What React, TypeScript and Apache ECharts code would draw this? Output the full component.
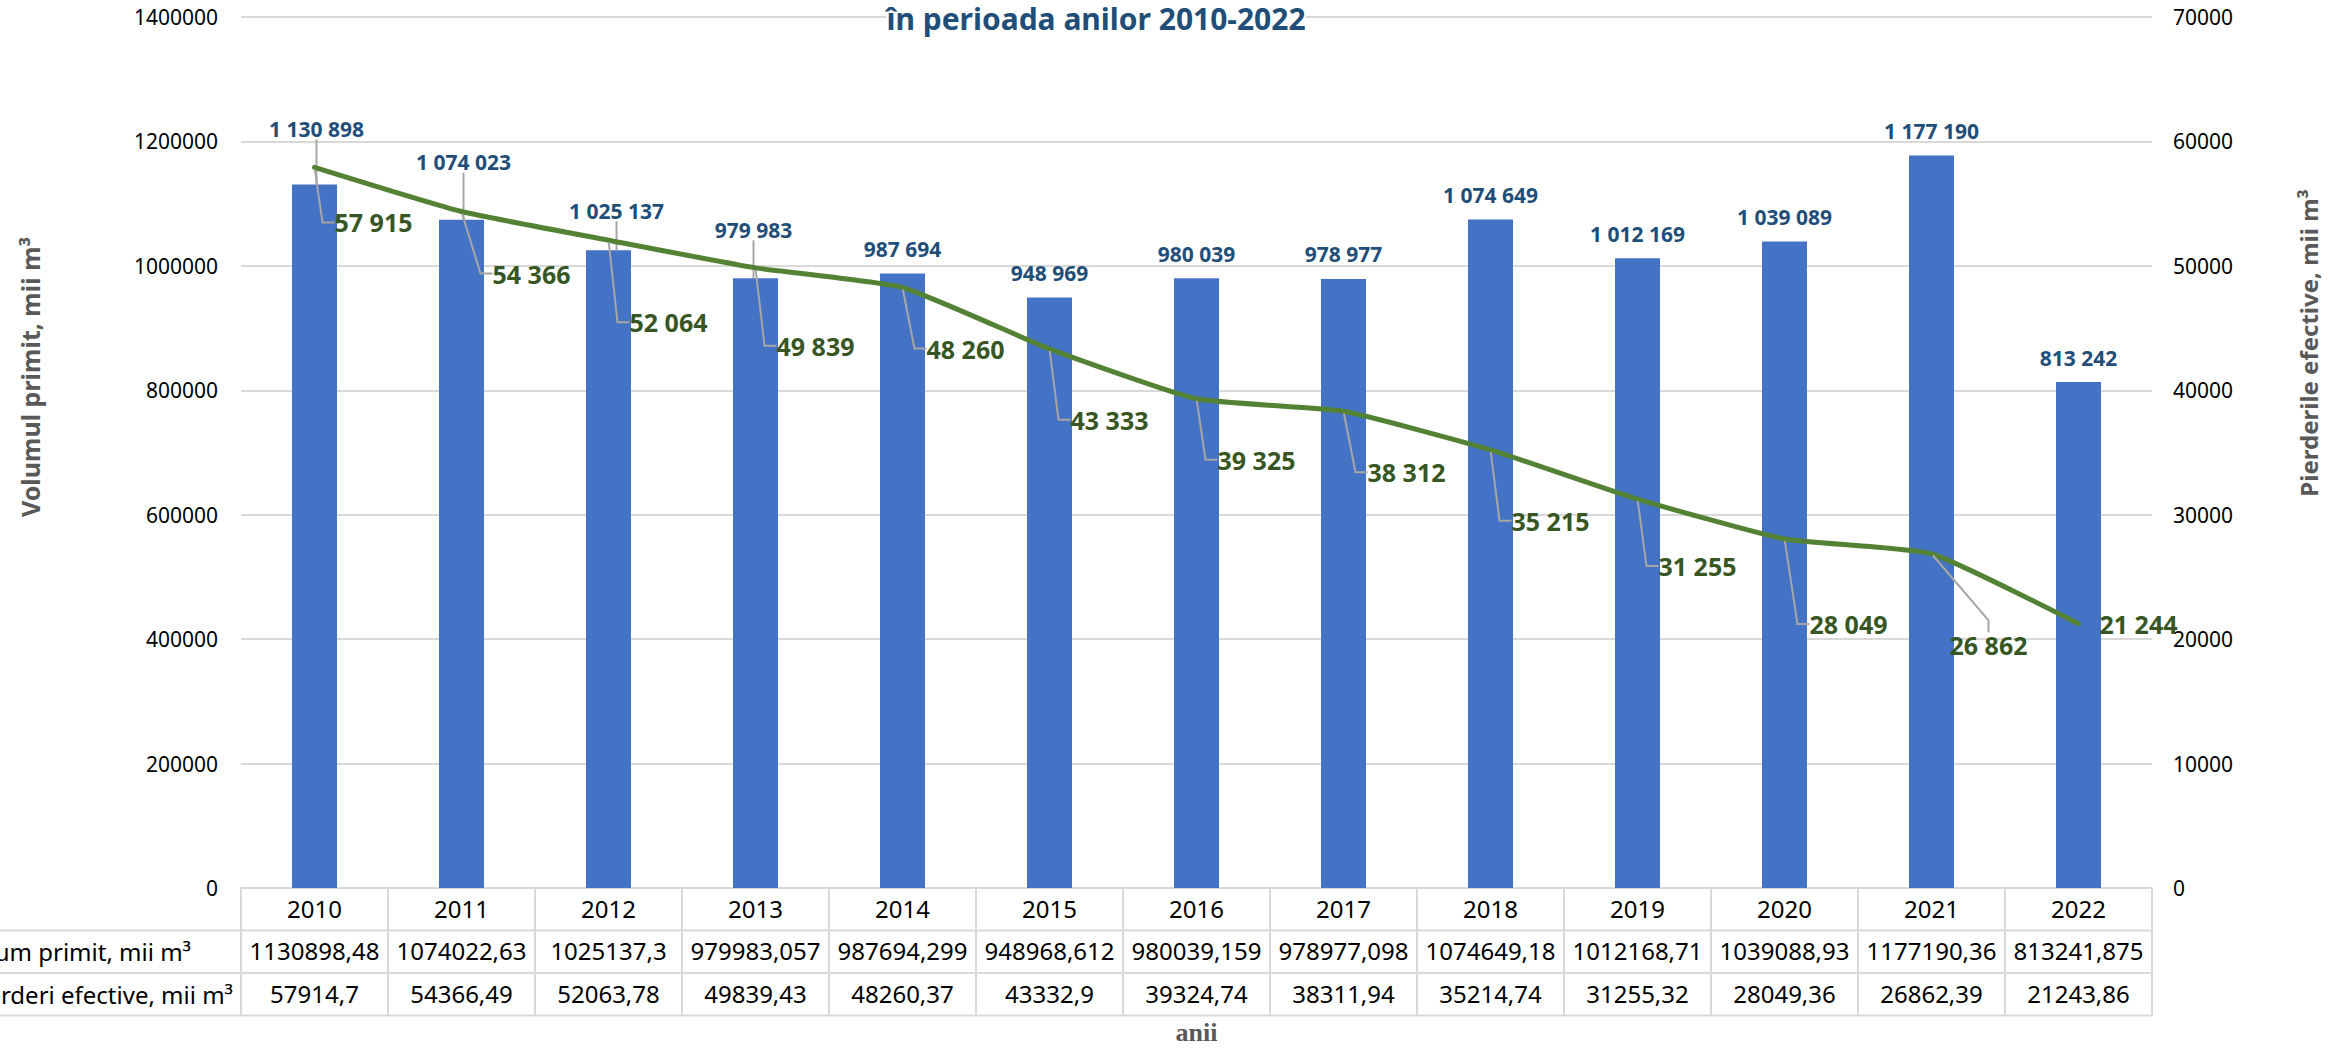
import React, { useEffect, useRef } from "react";
import * as echarts from "echarts";

// ---------- data ----------
const years = ["2010", "2011", "2012", "2013", "2014", "2015", "2016", "2017", "2018", "2019", "2020", "2021", "2022"];
const volumPrimit = [1130898.48, 1074022.63, 1025137.3, 979983.057, 987694.299, 948968.612, 980039.159, 978977.098, 1074649.18, 1012168.71, 1039088.93, 1177190.36, 813241.875];
const pierderiEfective = [57914.7, 54366.49, 52063.78, 49839.43, 48260.37, 43332.9, 39324.74, 38311.94, 35214.74, 31255.32, 28049.36, 26862.39, 21243.86];
const leftAxisMax = 1400000;
const leftAxisStep = 200000;
const rightAxisMax = 70000;
const rightAxisStep = 10000;

const titleText = "în perioada anilor 2010-2022";
const leftAxisName = "Volumul primit, mii m³";
const rightAxisName = "Pierderile efective, mii m³";
const rowLabelVolum = "Volum primit, mii m³";
const rowLabelPierderi = "Pierderi efective, mii m³";
const xAxisName = "anii";

// ---------- layout (label offsets, px) ----------
const barLabelShift = [[2, -31], [2, -33], [8, -15], [-2, -24], [0, 0], [0, 0], [0, 0], [0, 0], [0, 0], [0, 0], [0, 0], [0, 0], [0, 0]];
const lineLabelShift = [[59, 55], [70, 62], [60, 82], [60, 78], [63, 61], [60, 71], [60, 61], [63, 61], [60, 71], [60, 67], [64, 85], [57, 91], [60, 0]];

const W = 2336;
const H = 1048;
const GRID_LEFT = 241;
const GRID_RIGHT_X = 2152;
const GRID_TOP = 17;
const AXIS_Y = 888;
const ROW_H = 42.5;

const fmtSpace = (v: number) => String(Math.round(v)).replace(/\B(?=(\d{3})+(?!\d))/g, " ");
const fmtTable = (v: number) => String(v).replace(".", ",");

const FONT = "Noto Sans";

export default function App() {
  const ref = useRef<HTMLDivElement>(null);
  useEffect(() => {
    if (!ref.current) return;
    const chart = echarts.init(ref.current, undefined, { renderer: "svg" });
    const tableLines = [1, 2, 3].map((k) => ({
      type: "line",
      shape: { x1: 0, y1: AXIS_Y + ROW_H * k, x2: GRID_RIGHT_X, y2: AXIS_Y + ROW_H * k },
      style: { stroke: "#D9D9D9", lineWidth: 2 },
      z: 1,
    }));
    const option: any = {
      animation: false,
      backgroundColor: "#ffffff",
      textStyle: { fontFamily: FONT },
      grid: { left: GRID_LEFT, right: W - GRID_RIGHT_X, top: GRID_TOP, bottom: H - AXIS_Y, containLabel: false },
      xAxis: [
        {
          type: "category",
          data: years,
          position: "bottom",
          axisLine: { show: true, lineStyle: { color: "#D9D9D9", width: 2 } },
          axisTick: { show: true, length: ROW_H * 3, lineStyle: { color: "#D9D9D9", width: 2 } },
          axisLabel: { fontSize: 24, color: "#000", margin: 8, interval: 0, fontFamily: FONT },
        },
        {
          type: "category",
          data: volumPrimit.map(fmtTable),
          position: "bottom",
          offset: ROW_H,
          axisLine: { show: false },
          axisTick: { show: false },
          axisLabel: { fontSize: 24, color: "#000", margin: 8, interval: 0, fontFamily: FONT },
        },
        {
          type: "category",
          data: pierderiEfective.map(fmtTable),
          position: "bottom",
          offset: ROW_H * 2,
          axisLine: { show: false },
          axisTick: { show: false },
          axisLabel: { fontSize: 24, color: "#000", margin: 8, interval: 0, fontFamily: FONT },
        },
      ],
      yAxis: [
        {
          type: "value",
          min: 0,
          max: leftAxisMax,
          interval: leftAxisStep,
          position: "left",
          axisLine: { show: false },
          axisTick: { show: false },
          axisLabel: { fontSize: 21, color: "#000", margin: 23, formatter: (v: number) => String(v) },
          splitLine: { lineStyle: { color: "#D9D9D9", width: 2 } },
        },
        {
          type: "value",
          min: 0,
          max: rightAxisMax,
          interval: rightAxisStep,
          position: "right",
          axisLine: { show: false },
          axisTick: { show: false },
          axisLabel: { fontSize: 21, color: "#000", margin: 21, formatter: (v: number) => String(v) },
          splitLine: { show: false },
        },
      ],
      series: [
        {
          type: "bar",
          name: rowLabelVolum,
          xAxisIndex: 0,
          yAxisIndex: 0,
          barWidth: 45,
          itemStyle: { color: "#4472C4" },
          data: volumPrimit.map((v, i) => ({ value: v, labelLine: { show: barLabelShift[i][1] !== 0 } })),
          label: {
            show: true,
            position: "top",
            distance: 14,
            formatter: (p: any) => fmtSpace(p.value),
            fontFamily: FONT,
            fontWeight: "bold",
            fontSize: 21,
            color: "#1F4E79",
          },
          labelLine: { show: true, length2: 0, lineStyle: { color: "#A6A6A6", width: 2 } },
          labelLayout: (p: any) => ({ dx: barLabelShift[p.dataIndex][0], dy: barLabelShift[p.dataIndex][1] }),
          z: 2,
        },
        {
          type: "line",
          name: rowLabelPierderi,
          xAxisIndex: 0,
          yAxisIndex: 1,
          smooth: 0.15,
          symbol: "circle",
          symbolSize: 4,
          showSymbol: true,
          lineStyle: { color: "#548235", width: 5, cap: "round" },
          itemStyle: { color: "#548235" },
          data: pierderiEfective.map((v, i) => ({ value: v, labelLine: { show: lineLabelShift[i][1] !== 0 } })),
          label: {
            show: true,
            position: "inside",
            formatter: (p: any) => fmtSpace(p.value),
            fontFamily: FONT,
            fontWeight: "bold",
            fontSize: 25,
            color: "#375623",
          },
          labelLine: { show: true, length2: 12, lineStyle: { color: "#A6A6A6", width: 2 } },
          labelLayout: (p: any) => ({ dx: lineLabelShift[p.dataIndex][0], dy: lineLabelShift[p.dataIndex][1] }),
          z: 3,
        },
      ],
      graphic: [
        ...tableLines,
        {
          type: "text",
          x: 1096,
          y: 18,
          z: 10,
          style: {
            text: titleText,
            fill: "#1F4E79",
            fontFamily: FONT,
            fontWeight: "bold",
            fontSize: 30,
            lineHeight: 32,
            padding: 0,
            align: "center",
            verticalAlign: "middle",
            backgroundColor: "#ffffff",
          },
        },
        {
          type: "text",
          x: 30,
          y: 377,
          rotation: Math.PI / 2,
          style: {
            text: leftAxisName,
            fill: "#595959",
            fontFamily: FONT,
            fontWeight: "bold",
            fontSize: 25,
            align: "center",
            verticalAlign: "middle",
          },
        },
        {
          type: "text",
          x: 2308,
          y: 343,
          rotation: Math.PI / 2,
          style: {
            text: rightAxisName,
            fill: "#595959",
            fontFamily: FONT,
            fontWeight: "bold",
            fontSize: 24,
            align: "center",
            verticalAlign: "middle",
          },
        },
        {
          type: "text",
          x: 191,
          y: AXIS_Y + ROW_H * 1.5,
          style: { text: rowLabelVolum, fill: "#000", fontFamily: FONT, fontSize: 24, align: "right", verticalAlign: "middle" },
        },
        {
          type: "text",
          x: 233,
          y: AXIS_Y + ROW_H * 2.5,
          style: { text: rowLabelPierderi, fill: "#000", fontFamily: FONT, fontSize: 24, align: "right", verticalAlign: "middle" },
        },
        {
          type: "text",
          x: (GRID_LEFT + GRID_RIGHT_X) / 2,
          y: 1032,
          style: {
            text: xAxisName,
            fill: "#595959",
            fontFamily: "Liberation Serif",
            fontWeight: "bold",
            fontSize: 26,
            align: "center",
            verticalAlign: "middle",
          },
        },
      ],
    };
    chart.setOption(option);
    return () => chart.dispose();
  }, []);
  return <div ref={ref} style={{ position: "fixed", left: 0, top: 0, width: W, height: H }} />;
}
